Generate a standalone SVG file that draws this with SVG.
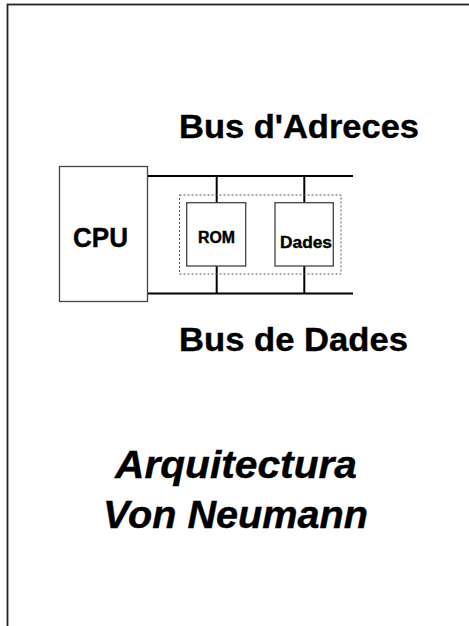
<svg xmlns="http://www.w3.org/2000/svg" width="469" height="626" viewBox="0 0 469 626">
<style>
text{font-family:"Liberation Sans",Arial,sans-serif;font-weight:bold;fill:#000;stroke:#000;stroke-width:0.4}
.box{fill:#fff;stroke:#444;stroke-width:1.3}
.bus{stroke:#000;stroke-width:2;fill:none}
</style>
<rect width="469" height="626" fill="#fff"/>
<rect x="7.5" y="4.5" width="520" height="700" fill="none" stroke="#222" stroke-width="1.8"/>
<text x="179" y="138" font-size="33" textLength="240" lengthAdjust="spacingAndGlyphs">Bus d'Adreces</text>
<text x="179" y="351" font-size="33" textLength="229" lengthAdjust="spacingAndGlyphs">Bus de Dades</text>
<g id="connectors">
<line class="bus" x1="148" y1="176" x2="353" y2="176"/>
<line class="bus" x1="148" y1="293.5" x2="353" y2="293.5"/>
<line class="bus" x1="216.7" y1="176" x2="216.7" y2="203"/>
<line class="bus" x1="216.7" y1="266" x2="216.7" y2="293.5"/>
<line class="bus" x1="304.3" y1="176" x2="304.3" y2="203"/>
<line class="bus" x1="304.3" y1="266" x2="304.3" y2="293.5"/>
</g>
<g id="memory">
<rect x="179.5" y="195" width="161.5" height="79" fill="none" stroke="#555" stroke-width="1" stroke-dasharray="2,2"/>
</g>
<g id="cpu">
<rect class="box" x="59.5" y="166.5" width="88" height="135"/>
<text x="73" y="247" font-size="28" textLength="55" lengthAdjust="spacingAndGlyphs">CPU</text>
</g>
<g id="rom">
<rect class="box" x="186.7" y="202.7" width="59" height="63.3"/>
<text x="198" y="243" font-size="16" textLength="37" lengthAdjust="spacingAndGlyphs">ROM</text>
</g>
<g id="dades">
<rect class="box" x="275" y="202.7" width="58.3" height="63.3"/>
<text x="280" y="248" font-size="17" textLength="52" lengthAdjust="spacingAndGlyphs">Dades</text>
</g>
<g id="title">
<text x="115" y="478" font-size="38" font-style="italic" textLength="242" lengthAdjust="spacingAndGlyphs">Arquitectura</text>
<text x="103" y="528" font-size="38" font-style="italic" textLength="265" lengthAdjust="spacingAndGlyphs">Von Neumann</text>
</g>
</svg>
